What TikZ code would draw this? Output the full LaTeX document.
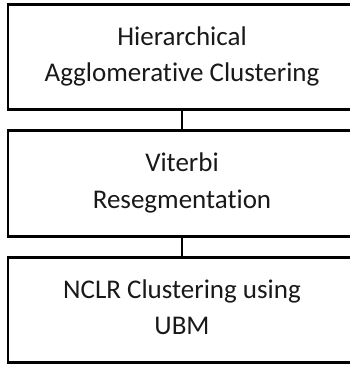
\documentclass[tikz,border=0pt]{standalone}
\usepackage{fontspec}
\setmainfont{Carlito}[Ligatures=CommonOff]
\usetikzlibrary{positioning}
\newcommand{\topstrut}{\rule{0pt}{20pt}}
\newcommand{\botstrut}{\rule[-7.3pt]{0pt}{7.3pt}}

\begin{document}
\begin{tikzpicture}[x=1pt,y=-1pt,
    stage/.style={draw, line width=2.8pt, outer sep=0pt,
      minimum width=348pt, minimum height=105.5pt,
      align=center, font=\fontsize{27}{36.7}\selectfont, text=black!90},
    node distance=21pt]
    \useasboundingbox (0,0) rectangle (349,367);
    \node[stage] (hac) at (182,57) {\topstrut Hierarchical\\Agglomerative Clustering\botstrut};
    \node[stage, below=of hac] (vit) {\topstrut Viterbi\\Resegmentation\botstrut};
    \node[stage, below=of vit] (nclr) {\topstrut NCLR Clustering using\\UBM\botstrut};

    \draw[line width=2.8pt] (hac) -- (vit);
    \draw[line width=2.8pt] (vit) -- (nclr);
\end{tikzpicture}
\end{document}
